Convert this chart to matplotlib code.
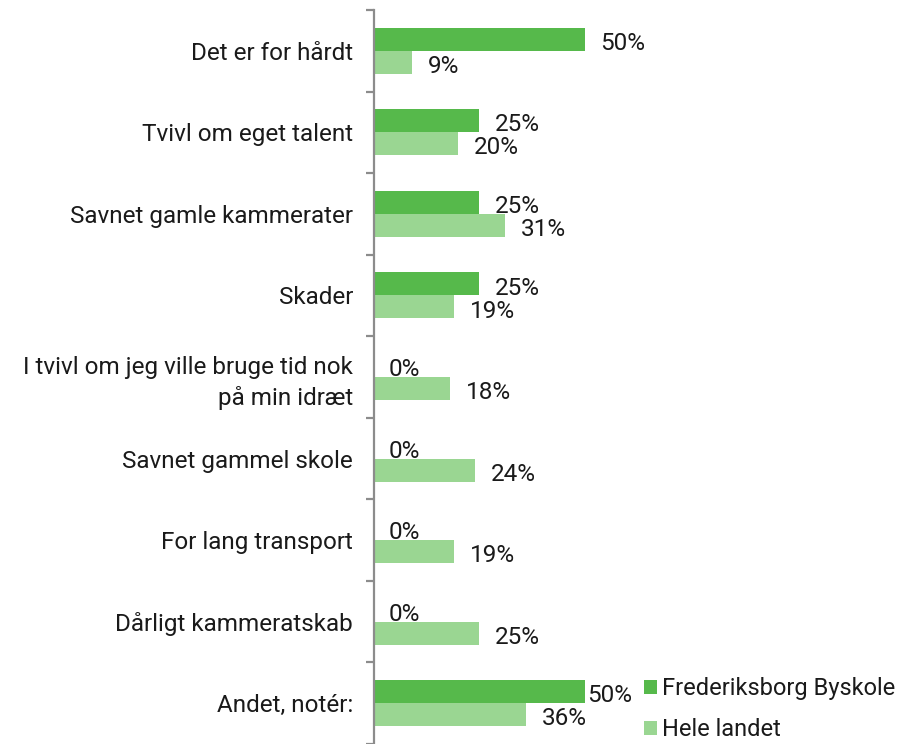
import matplotlib.pyplot as plt
import numpy as np

plt.rcParams['font.family'] = ['Roboto', 'DejaVu Sans']

# Data
categories = ['Det er for hårdt', 'Tvivl om eget talent', 'Savnet gamle kammerater',
              'Skader', 'I tvivl om jeg ville bruge tid nok\npå min idræt',
              'Savnet gammel skole', 'For lang transport', 'Dårligt kammeratskab',
              'Andet, notér:']
frederiksberg = [50, 25, 25, 25, 0, 0, 0, 0, 50]
hele_landet = [9, 20, 31, 19, 18, 24, 19, 25, 36]
series_names = ['Frederiksborg Byskole', 'Hele landet']

dark = '#56b94b'
light = '#9ad692'
txt = '#1a1a1a'
fs = 17.5

fig = plt.figure(figsize=(9.12, 7.44), dpi=100)
ax = fig.add_axes([0.41, 0.0, 0.578, 0.9866])

n = len(categories)
y = np.arange(n)
h = 0.282
ax.barh(y - h / 2, frederiksberg, height=h, color=dark, label=series_names[0])
ax.barh(y + h / 2, hele_landet, height=h, color=light, label=series_names[1])

ax.set_xlim(0, 125)
ax.set_ylim(n - 0.5, -0.5)

# value labels
for i in range(n):
    off = 3.6 if i < n - 1 else 0.5
    ax.text(frederiksberg[i] + (off if frederiksberg[i] > 0 else 3.6), y[i] - h / 2 + 0.05,
            f'{frederiksberg[i]}%', va='center', ha='left', fontsize=fs, color=txt)
    ax.text(hele_landet[i] + 3.8, y[i] + h / 2 + 0.05, f'{hele_landet[i]}%',
            va='center', ha='left', fontsize=fs, color=txt)

# axis styling
for s in ['top', 'right', 'bottom']:
    ax.spines[s].set_visible(False)
ax.spines['left'].set_color('#8c8c8c')
ax.spines['left'].set_linewidth(1.6)
ax.set_xticks([])
ax.set_yticks(np.arange(-0.5, n, 1), minor=False)
ax.set_yticklabels([])
ax.set_yticks(y, minor=True)
ax.set_yticklabels(categories, minor=True, fontsize=fs, color=txt, linespacing=1.35)
ax.tick_params(axis='y', which='major', length=6, width=1.6, color='#8c8c8c')
ax.tick_params(axis='y', which='minor', length=0, pad=15)

leg = ax.legend(loc='lower left', bbox_to_anchor=(0.49, -0.012), frameon=False,
                fontsize=17, handlelength=0.55, handleheight=0.55, handletextpad=0.2,
                labelspacing=0.75, borderpad=0)
for t in leg.get_texts():
    t.set_color(txt)

fig.savefig('out.png', dpi=100)
